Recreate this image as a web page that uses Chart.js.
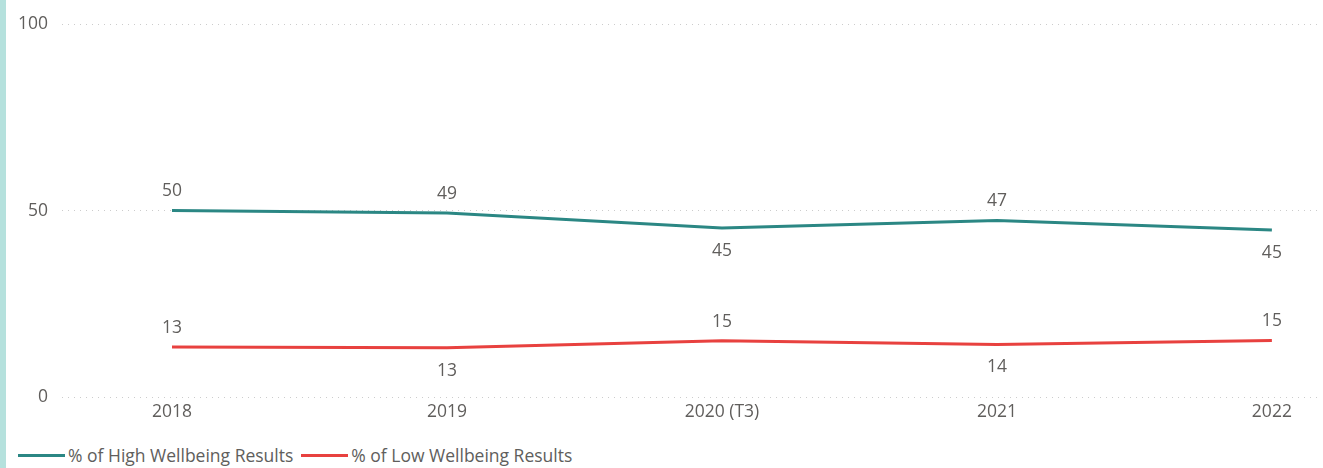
<!DOCTYPE html>
<html>
<head>
<meta charset="utf-8">
<script src="https://cdn.jsdelivr.net/npm/chart.js@4.4.1/dist/chart.umd.min.js"></script>
<style>
  html, body { margin: 0; padding: 0; background: #ffffff; }
  body { width: 1323px; height: 468px; position: relative; overflow: hidden; font-family: "Open Sans", "Noto Sans", sans-serif; }
  #strip { position: absolute; left: 0; top: 0; width: 6px; height: 468px; background: #b5e1dd; }
  #wrap { position: absolute; left: 0; top: 0; width: 1323px; height: 428px; }
  #legend { position: absolute; left: 18px; top: 443px; display: flex; align-items: center; font-size: 17.5px; color: #605e5c; white-space: nowrap; }
  .item { display: flex; align-items: center; margin-right: 8px; }
  .swatch { width: 47px; height: 3px; margin-right: 3px; }
</style>
</head>
<body>
<div id="strip"></div>
<div id="wrap"><canvas id="chart"></canvas></div>
<div id="legend"></div>
<script>
// Survey years and wellbeing percentages
const categories = ["2018", "2019", "2020 (T3)", "2021", "2022"];
const highWellbeing = [50.1, 49.4, 45.4, 47.4, 44.8];
const lowWellbeing = [13.4, 13.2, 15.1, 14.1, 15.2];
const yTicks = [0, 50, 100];
const seriesNames = ["% of High Wellbeing Results", "% of Low Wellbeing Results"];

// where each value label sits relative to its point
const highLabelSide = ["above", "above", "below", "above", "below"];
const lowLabelSide = ["above", "below", "above", "below", "above"];

const teal = "#2b8784";
const red = "#e8413f";
const textGrey = "#605e5c";
const fontFamily = '"Open Sans", "Noto Sans", sans-serif';
const fontSize = 17.5;

const valueLabels = {
  id: "valueLabels",
  afterDatasetsDraw(chart) {
    const ctx = chart.ctx;
    ctx.save();
    ctx.font = fontSize + "px " + fontFamily;
    ctx.fillStyle = textGrey;
    ctx.textAlign = "center";
    ctx.textBaseline = "middle";
    chart.data.datasets.forEach((ds, di) => {
      const meta = chart.getDatasetMeta(di);
      meta.data.forEach((pt, i) => {
        const side = ds.labelSide[i];
        const y = side === "above" ? pt.y - 19 : pt.y + 23;
        ctx.fillText(String(Math.round(ds.data[i].y)), pt.x, y);
      });
    });
    ctx.restore();
  }
};

const toPoints = arr => arr.map((v, i) => ({ x: i, y: v }));

const chart = new Chart(document.getElementById("chart"), {
  type: "line",
  data: {
    datasets: [
      {
        label: seriesNames[0],
        data: toPoints(highWellbeing),
        borderColor: teal,
        backgroundColor: teal,
        borderWidth: 3,
        pointRadius: 0,
        tension: 0,
        labelSide: highLabelSide
      },
      {
        label: seriesNames[1],
        data: toPoints(lowWellbeing),
        borderColor: red,
        backgroundColor: red,
        borderWidth: 3,
        pointRadius: 0,
        tension: 0,
        labelSide: lowLabelSide
      }
    ]
  },
  options: {
    responsive: true,
    maintainAspectRatio: false,
    animation: false,
    layout: { padding: { top: 22, right: 3, left: 0, bottom: 0 } },
    plugins: {
      legend: { display: false },
      tooltip: { enabled: false }
    },
    scales: {
      x: {
        type: "linear",
        min: -0.4,
        max: 4.175,
        afterBuildTicks(scale) {
          scale.ticks = categories.map((c, i) => ({ value: i }));
        },
        ticks: {
          callback: v => categories[v],
          color: textGrey,
          font: { family: fontFamily, size: fontSize },
          padding: 5,
          maxRotation: 0,
          autoSkip: false
        },
        grid: { display: false, drawTicks: false },
        border: { display: false }
      },
      y: {
        min: 0,
        max: 100,
        afterBuildTicks(scale) {
          scale.ticks = yTicks.map(v => ({ value: v }));
        },
        afterFit(scale) { scale.width = 62; },
        ticks: {
          color: textGrey,
          font: { family: fontFamily, size: fontSize },
          padding: 14
        },
        grid: {
          color: "#cccccc",
          lineWidth: 1,
          drawTicks: false
        },
        border: { display: false, dash: [1, 5] }
      }
    }
  },
  plugins: [valueLabels]
});

// legend built from the same series
const legend = document.getElementById("legend");
chart.data.datasets.forEach(ds => {
  const item = document.createElement("div");
  item.className = "item";
  const sw = document.createElement("span");
  sw.className = "swatch";
  sw.style.background = ds.borderColor;
  const txt = document.createElement("span");
  txt.textContent = ds.label;
  item.appendChild(sw);
  item.appendChild(txt);
  legend.appendChild(item);
});
</script>
</body>
</html>
